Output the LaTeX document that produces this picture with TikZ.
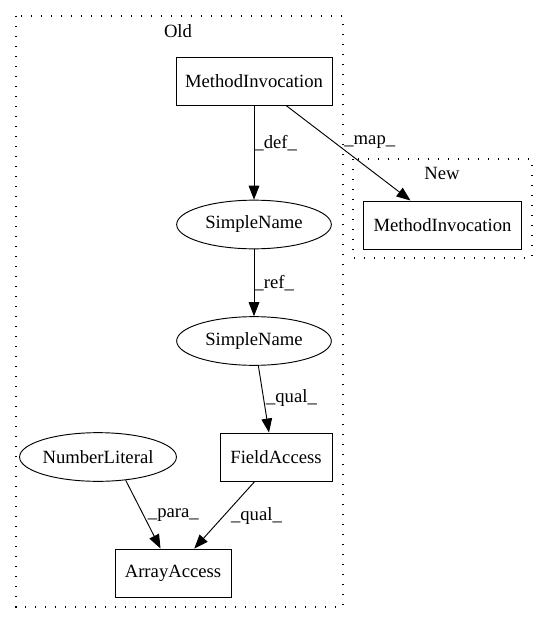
\documentclass[tikz,border=0pt]{standalone}
\usepackage{fontspec}
\setmainfont{Liberation Serif}
\usetikzlibrary{shapes.geometric,arrows.meta}

\begin{document}
\begin{tikzpicture}[x=0.75pt,y=-0.75pt,font=\fontsize{14}{16}\selectfont]
\tikzset{box/.style = {shape=rectangle,draw,line width=0.7pt,minimum height=36pt,inner sep=0pt}}
\tikzset{oval/.style = {shape=ellipse,draw,line width=0.7pt,minimum height=36.5pt,inner sep=0pt}}
\tikzset{edge/.style = {-{Triangle[length=10.5pt,width=8pt]},line width=0.7pt}}
\tikzset{cluster/.style = {draw,line width=0.8pt,dash pattern=on 0.9pt off 6.6pt}}
\tikzset{elabel/.style = {inner sep=0pt}}
\useasboundingbox (0,0) rectangle (548,624);
% clusters
\draw[cluster] (16,16) rectangle (343,607);
\node (old) at (178,31) {Old};
\draw[cluster] (353,159) rectangle (532,258);
\node (new) at (442,173) {New};
% nodes
\node[box,minimum width=117pt] (mio) at (254,81) {MethodInvocation};
\node[oval,minimum width=116pt] (sn1) at (254,224.5) {SimpleName};
\node[oval,minimum width=116pt] (sn2) at (254,341) {SimpleName};
\node[box,minimum width=84pt] (fa) at (276,457) {FieldAccess};
\node[oval,minimum width=108pt] (nl) at (98,457) {NumberLiteral};
\node[box,minimum width=87pt] (aa) at (173,573) {ArrayAccess};
\node[box,minimum width=118pt] (min) at (442.5,225) {MethodInvocation};
% edges
\draw[edge] (mio) -- node[elabel,pos=0.4,right] {\_def\_} (sn1);
\draw[edge] (mio) -- node[elabel,pos=0.39,right=7pt] {\_map\_} (min);
\draw[edge] (sn1) -- node[elabel,right] {\_ref\_} (sn2);
\draw[edge] (sn2.-80) -- node[elabel,pos=0.49,right=1.5pt] {\_qual\_} (fa.106);
\draw[edge] (nl.-40) -- node[elabel,pos=0.51,right=3pt] {\_para\_} (aa.117);
\draw[edge] (fa.-131) -- node[elabel,pos=0.51,right=5pt] {\_qual\_} (aa.49);
\end{tikzpicture}
\end{document}
